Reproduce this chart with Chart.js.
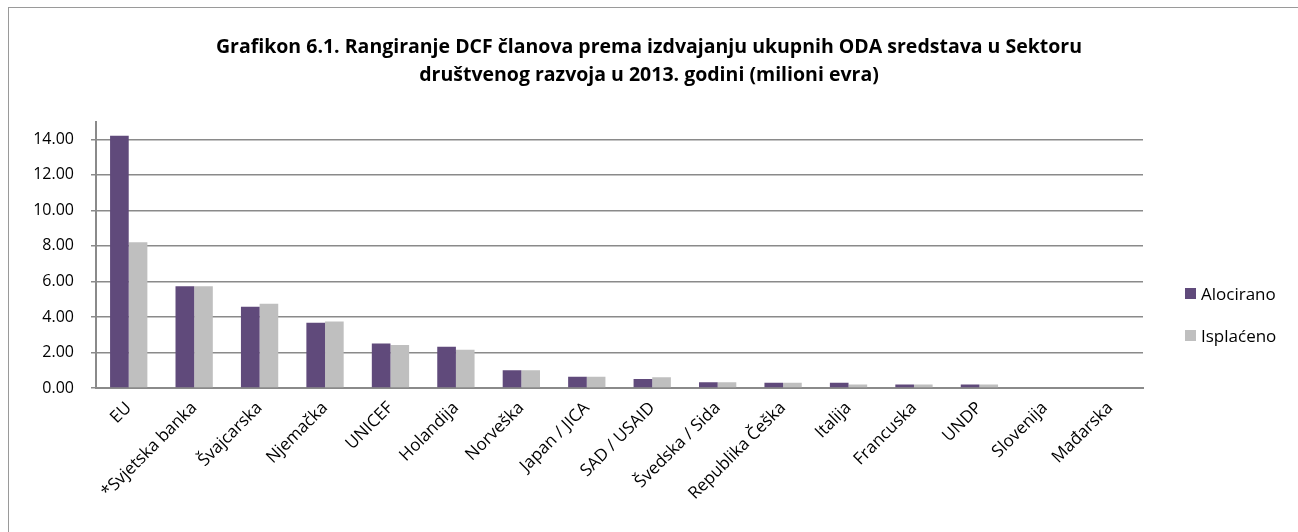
<!DOCTYPE html>
<html>
<head>
<meta charset="utf-8">
<script src="https://cdn.jsdelivr.net/npm/chart.js@4/dist/chart.umd.min.js"></script>
<style>
  body { margin: 0; background: #fff; }
  #wrap { position: relative; width: 1298px; height: 532px; }
  #frameLeft { position: absolute; left: 8px; top: 7px; width: 1px; height: 525px; background: #9a9a9a; }
  #frameTop { position: absolute; left: 8px; top: 7px; width: 1290px; height: 1px; background: #9a9a9a; }
  .leg { position: absolute; left: 1185px; height: 24px; font: 17px "Open Sans", sans-serif; color: #000; display: flex; align-items: center; }
  .leg span.box { display: inline-block; width: 11px; height: 11px; margin-right: 5px; }
</style>
</head>
<body>
<div id="wrap">
  <canvas id="chart" width="1298" height="532"></canvas>
  <div id="frameLeft"></div>
  <div id="frameTop"></div>
  <div class="leg" style="top:281px"><span class="box" style="background:#604A7B"></span>Alocirano</div>
  <div class="leg" style="top:323px"><span class="box" style="background:#BFBFBF"></span>Isplaćeno</div>
</div>
<script>
// data
var categories = ['EU', '*Svjetska banka', 'Švajcarska', 'Njemačka', 'UNICEF', 'Holandija', 'Norveška',
    'Japan / JICA', 'SAD / USAID', 'Švedska / Sida', 'Republika Češka', 'Italija', 'Francuska', 'UNDP',
    'Slovenija', 'Mađarska'];
var alocirano = [14.2, 5.73, 4.57, 3.67, 2.51, 2.32, 1.0, 0.64, 0.5, 0.33, 0.3, 0.3, 0.2, 0.2, 0, 0];
var isplaceno = [8.2, 5.73, 4.74, 3.74, 2.42, 2.15, 1.0, 0.64, 0.61, 0.33, 0.3, 0.2, 0.2, 0.2, 0, 0];
var yTicks = [0, 2, 4, 6, 8, 10, 12, 14];
var titleLines = ['Grafikon 6.1. Rangiranje DCF članova prema izdvajanju ukupnih ODA sredstava u Sektoru',
    'društvenog razvoja u 2013. godini (milioni evra)'];

Chart.defaults.font.family = '"Open Sans", sans-serif';
Chart.defaults.color = '#000';

new Chart(document.getElementById('chart'), {
    type: 'bar',
    data: {
        labels: categories,
        datasets: [
            {
                label: 'Alocirano',
                backgroundColor: '#604A7B',
                data: alocirano
            }, {
                label: 'Isplaćeno',
                backgroundColor: '#BFBFBF',
                data: isplaceno
            }
        ]
    },
    options: {
        responsive: false,
        animation: false,
        layout: {
            padding: { left: 0, right: 0, top: 0, bottom: 0 }
        },
        datasets: {
            bar: { barPercentage: 1, categoryPercentage: 0.57 }
        },
        plugins: {
            legend: { display: false },
            tooltip: { enabled: false },
            title: {
                display: true,
                text: titleLines,
                font: { size: 19.5, weight: 'bold', lineHeight: 1.45 },
                padding: { top: 33, bottom: 32 }
            }
        },
        scales: {
            x: {
                grid: { display: false },
                border: { display: true, color: '#8a8a8a', width: 2 },
                ticks: { font: { size: 17 }, maxRotation: 45, minRotation: 45, autoSkip: false, padding: 2 },
                afterFit: function (scale) { scale.height = 144; }
            },
            y: {
                min: 0,
                max: 15,
                afterBuildTicks: function (scale) {
                    scale.ticks = yTicks.map(function (v) { return { value: v }; });
                },
                grid: { color: '#8a8a8a', lineWidth: 1.5, tickLength: 5 },
                border: { display: true, color: '#8a8a8a', width: 2 },
                ticks: {
                    font: { size: 16 },
                    padding: 17,
                    callback: function (v) { return Number(v).toFixed(2); }
                },
                afterFit: function (scale) { scale.width = 96; }
            },
            // empty right axis that keeps room for the legend
            yRight: {
                position: 'right',
                grid: { display: false },
                border: { display: false },
                ticks: { display: false },
                afterFit: function (scale) { scale.width = 155; }
            }
        }
    }
});
</script>
</body>
</html>
